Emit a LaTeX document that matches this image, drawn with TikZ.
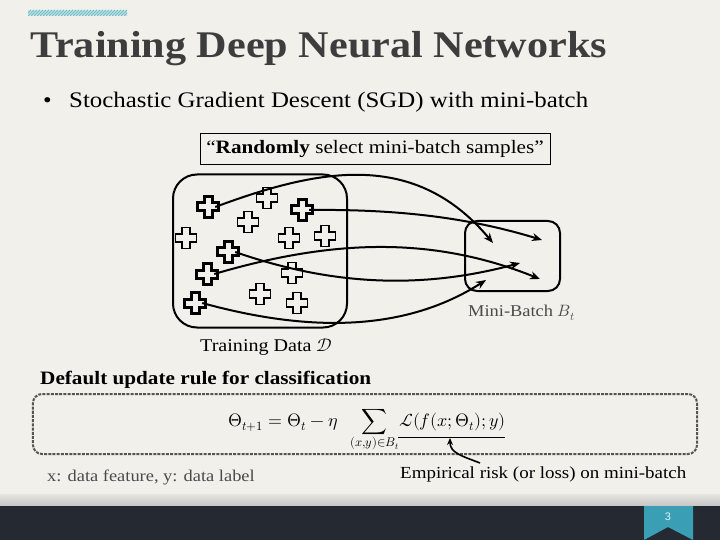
\documentclass[tikz,border=0pt]{standalone}
\usepackage{fontspec}
\usepackage{unicode-math}
\setmainfont{Liberation Serif}[FakeStretch=1.12]
\setsansfont{Liberation Sans}
\setmathfont{Latin Modern Math}
\usetikzlibrary{arrows.meta}
\definecolor{bg}{HTML}{F2F0EB}
\definecolor{band}{HTML}{252932}
\definecolor{tabc}{HTML}{3A9FB5}
\definecolor{hatch}{HTML}{6FC0CC}
\definecolor{titlec}{HTML}{3D3D3D}
\definecolor{graytext}{HTML}{4A4A4A}
\definecolor{dashc}{HTML}{555555}
\tikzset{
  plusnormal/.style={draw=black, line width=1.6bp, line join=miter},
  plusbold/.style={draw=black, line width=3bp, line join=miter},
  pt/.style={inner sep=0pt, minimum size=14bp},
  flow/.style={draw=black, line width=2bp, -{Stealth[length=10bp,width=8bp]}},
  txt/.style={anchor=base west, inner sep=0pt},
}
\newcommand{\plusshape}{(-4,-10.5) -- (4,-10.5) -- (4,-4) -- (10.5,-4) -- (10.5,4) -- (4,4) -- (4,10.5) -- (-4,10.5) -- (-4,4) -- (-10.5,4) -- (-10.5,-4) -- (-4,-4) -- cycle}
\begin{document}
\begin{tikzpicture}[x=1bp,y=-1bp]
\useasboundingbox (0,0) rectangle (720,540);
\fill[bg] (0,0) rectangle (720,540);
% bottom band
\shade[top color=bg!90!gray, bottom color=gray!45] (0,494) rectangle (720,506);
\fill[band] (0,506) rectangle (720,540);
\fill[tabc] (644,506) -- (693,506) -- (693,540) -- (668,527) -- (644,540) -- cycle;
\node[font=\sffamily\fontsize{11}{11}\selectfont, text=white!85!tabc] (pagenum) at (668,517) {3};
% hatched bar
\begin{scope}
\clip (28,10) rectangle (127,16);
\foreach \i in {0,3,...,108} \draw[hatch, line width=1.3bp] (22+\i,16) -- (28+\i,10);
\end{scope}
% title
\node[txt, text=titlec, font=\fontsize{37.8}{38}\selectfont\bfseries] (title) at (30,58) {Training Deep Neural Networks};
% bullet
\node[txt, font=\fontsize{22}{22}\selectfont] (dot) at (43,108) {•};
\node[txt, font=\fontsize{22.3}{22}\selectfont] (bullet) at (69,108) {Stochastic Gradient Descent (SGD) with mini-batch};
% caption box
\node[draw=black, line width=0.8bp, minimum width=350bp, minimum height=31bp, inner sep=0pt, font=\fontsize{19}{19}\selectfont] (sel) at (375,148.5) {“\textbf{Randomly} select mini-batch samples”};
% containers
\node[draw=black, line width=2bp, rounded corners=24bp, minimum width=174bp, minimum height=153bp] (data) at (260,251) {};
\node[draw=black, line width=2bp, rounded corners=12bp, minimum width=95bp, minimum height=70bp] (mb) at (512.5,256) {};
\node[txt, font=\fontsize{18}{18}\selectfont] (datalabel) at (200,351) {Training Data $\mathcal{D}$};
\node[txt, text=graytext, font=\fontsize{16.5}{16.5}\selectfont] (mblabel) at (468,316) {Mini-Batch $B_t$};
% samples
\node[pt] (c1) at (208,207) {};
\node[pt] (c2) at (302,210) {};
\node[pt] (c3) at (228,252) {};
\node[pt] (c4) at (207,274) {};
\node[pt] (c5) at (195,303) {};
\node[pt] (c6) at (267,198) {};
\node[pt] (c7) at (248,222) {};
\node[pt] (c8) at (186,238) {};
\node[pt] (c9) at (289,238) {};
\node[pt] (c10) at (325,236) {};
\node[pt] (c11) at (292,273) {};
\node[pt] (c12) at (260,294) {};
\node[pt] (c13) at (297,303) {};
\foreach \n in {c6,c7,c8,c9,c10,c11,c12,c13} \draw[plusnormal, shift={(\n)}] \plusshape;
\foreach \n in {c1,c2,c3,c4,c5} \draw[plusbold, shift={(\n)}] \plusshape;
% targets
\coordinate (t1) at (493,243);
\coordinate (t2) at (542,240);
\coordinate (t3) at (520,263);
\coordinate (t4) at (540,279);
\coordinate (t5) at (486,280);
\draw[flow] (c1.east) .. controls (320,168) and (415,150) .. (t1);
\draw[flow] (c2.east) .. controls (400,209) and (470,218) .. (t2);
\draw[flow] (c3.east) .. controls (330,285) and (420,290) .. (t3);
\draw[flow] (c4.east) .. controls (330,240) and (430,235) .. (t4);
\draw[flow] (c5.east) .. controls (300,330) and (400,335) .. (t5);
% update rule
\node[txt, font=\fontsize{19}{19}\selectfont\bfseries] (rulehead) at (40,384) {Default update rule for classification};
\node[draw=dashc, line width=2bp, dash pattern=on 3bp off 1.2bp, rounded corners=9bp, minimum width=664bp, minimum height=60bp] (rulebox) at (365,424) {};
\node[txt, font=\fontsize{18}{18}\selectfont] (formula) at (228,426) {$\displaystyle \Theta_{t+1} = \Theta_t - \eta\;\; \sum_{(x,y)\in B_t}$};
\node[anchor=base west, inner xsep=1bp, inner ysep=0pt, font=\fontsize{18}{18}\selectfont] (loss) at (398,426) {$\mathcal{L}(f(x;\Theta_t);y)$};
\coordinate (barL) at (398,437);
\coordinate (barR) at (505,437);
\draw[black, line width=1bp] (barL) -- (barR);
\node[txt, text=graytext, font=\fontsize{16.5}{16.5}\selectfont] (feat) at (47,481) {x: data feature, y: data label};
\node[txt, font=\fontsize{17}{17}\selectfont] (emp) at (400,478) {Empirical risk (or loss) on mini-batch};
\coordinate (risktail) at (480,463);
\coordinate (risktip) at (450,438);
\draw[black, line width=1.6bp, -{Stealth[length=7bp,width=6bp]}] (risktail) .. controls (462,456) and (450,453) .. (risktip);
\end{tikzpicture}
\end{document}
